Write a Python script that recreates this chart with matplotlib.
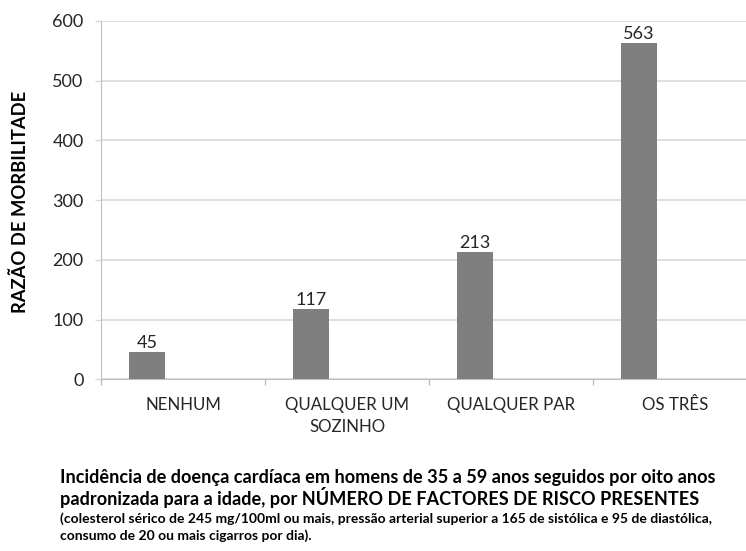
"""Incidence of heart disease by number of risk factors (bar chart)."""

import matplotlib
matplotlib.use("Agg")
import matplotlib.pyplot as plt
from matplotlib.ticker import FixedLocator

categories = ["NENHUM", "QUALQUER UM\nSOZINHO", "QUALQUER PAR", "OS TRÊS"]
values = [45, 117, 213, 563]
y_ticks = [0, 100, 200, 300, 400, 500, 600]
y_label = "RAZÃO DE MORBILITADE"
caption_main = [
    "Incidência de doença cardíaca em homens de 35 a 59 anos seguidos por oito anos",
    "padronizada para a idade, por NÚMERO DE FACTORES DE RISCO PRESENTES",
]
caption_note = [
    "(colesterol sérico de 245 mg/100ml ou mais, pressão arterial superior a 165 de sistólica e 95 de diastólica,",
    "consumo de 20 ou mais cigarros por dia).",
]

plt.rcParams["font.family"] = ["Lato", "DejaVu Sans"]

BAR_COLOR = "#7f7f7f"
GRID_COLOR = "#d9d9d9"
TEXT_COLOR = "#262626"


def main() -> None:
    fig = plt.figure(figsize=(7.46, 5.51), dpi=100)
    ax = fig.add_axes([0.1354, 0.3116, 0.8793, 0.6503])

    x = list(range(len(categories)))
    bar_x = [i - 0.22 for i in x]
    bars = ax.bar(bar_x, values, width=0.22, color=BAR_COLOR, zorder=3)
    for rect, v in zip(bars, values):
        ax.annotate(str(v), (rect.get_x() + rect.get_width() / 2, v),
                    xytext=(0, 1), textcoords="offset points",
                    ha="center", va="bottom", fontsize=13, color=TEXT_COLOR)

    ax.set_xlim(-0.5, len(categories) - 0.5)
    ax.set_ylim(0, 600)
    ax.set_yticks(y_ticks)
    ax.yaxis.grid(True, color=GRID_COLOR, linewidth=1.2, zorder=0)
    ax.tick_params(axis="y", length=4.5, width=1, color=GRID_COLOR,
                   labelsize=13, labelcolor=TEXT_COLOR, pad=8)

    ax.set_xticks(x)
    ax.set_xticklabels(categories, fontsize=12.2, color=TEXT_COLOR,
                       linespacing=1.45)
    ax.tick_params(axis="x", which="major", length=0, pad=13)
    ax.xaxis.set_minor_locator(FixedLocator([i - 0.5 for i in range(len(categories) + 1)]))
    ax.tick_params(axis="x", which="minor", length=4, width=1, color="#bfbfbf")

    for side in ["top", "right"]:
        ax.spines[side].set_visible(False)
    ax.spines["left"].set_color("#bfbfbf")
    ax.spines["bottom"].set_color("#bfbfbf")

    fig.text(0.027, 1 - 202 / 551, y_label, rotation=90, ha="center", va="center",
             fontsize=13.2, fontweight="bold", color="black")

    fig.text(0.081, 1 - 478 / 551, caption_main[0], ha="left", va="center",
             fontsize=13.1, fontweight="bold", color="black")
    fig.text(0.081, 1 - 498 / 551, caption_main[1], ha="left", va="center",
             fontsize=13.1, fontweight="bold", color="black")
    fig.text(0.081, 1 - 519 / 551, caption_note[0], ha="left", va="center",
             fontsize=10, fontweight="bold", color="black")
    fig.text(0.081, 1 - 536 / 551, caption_note[1], ha="left", va="center",
             fontsize=10, fontweight="bold", color="black")

    fig.savefig("out.png", dpi=100)


if __name__ == "__main__":
    main()
